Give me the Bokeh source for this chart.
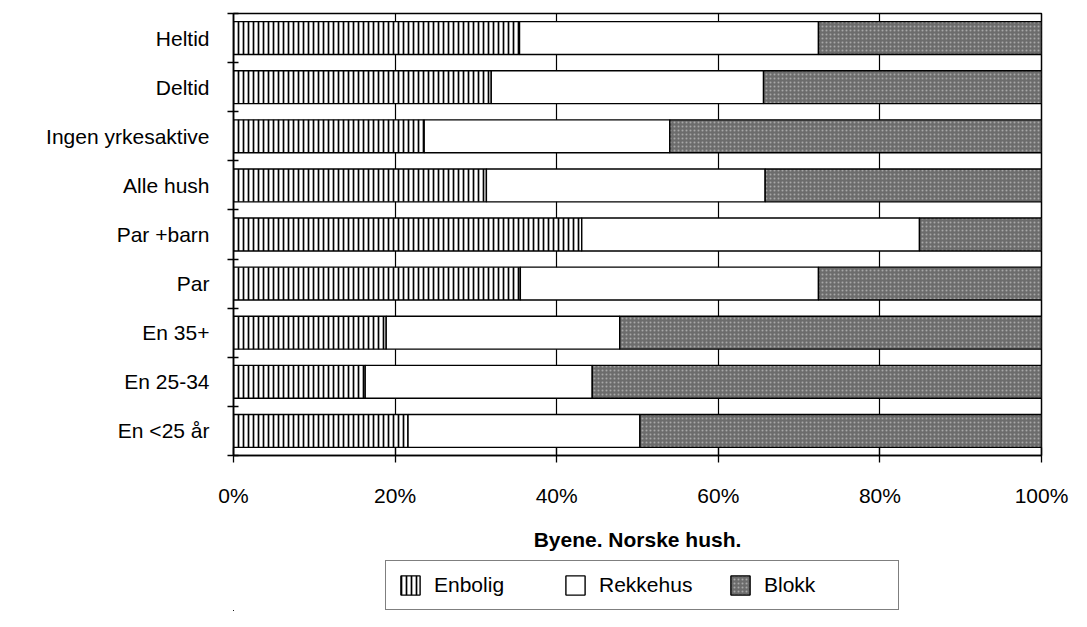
from bokeh.plotting import figure
from bokeh.models import (ColumnDataSource, Range1d, FixedTicker, Legend, LegendItem,
                          PrintfTickFormatter)
from bokeh.layouts import column
from bokeh.embed import file_html
from bokeh.resources import INLINE

# ---- data (percent of households) ----
categories = ["Heltid", "Deltid", "Ingen yrkesaktive", "Alle hush", "Par +barn",
              "Par", "En 35+", "En 25-34", "En <25 år"]
enbolig = [35.4, 31.9, 23.6, 31.3, 43.1, 35.5, 18.9, 16.3, 21.6]
rekkehus = [37.0, 33.7, 30.4, 34.5, 41.8, 36.9, 28.9, 28.1, 28.7]
blokk = [27.6, 34.4, 46.0, 34.2, 15.1, 27.6, 52.2, 55.6, 49.7]
series_names = ["Enbolig", "Rekkehus", "Blokk"]
x_ticks = [0, 20, 40, 60, 80, 100]
x_title = "Byene. Norske hush."

FONT = "Liberation Sans"
n = len(categories)
ypos = [n - i - 0.5 for i in range(n)]

e_end = list(enbolig)
r_end = [e + r for e, r in zip(enbolig, rekkehus)]
b_end = [a + b for a, b in zip(r_end, blokk)]

src = ColumnDataSource(dict(
    y=ypos, cat=categories,
    e_l=[0] * n, e_r=e_end,
    r_l=e_end, r_r=r_end,
    b_l=r_end, b_r=b_end,
))

STYLES = [
    dict(fill_color="white", line_color="black", line_width=1.4,
         hatch_pattern="vertical_line", hatch_color="black", hatch_scale=5, hatch_weight=1.7),
    dict(fill_color="white", line_color="black", line_width=1.4),
    dict(fill_color="#6c6c6c", line_color="black", line_width=1.4,
         hatch_pattern="dot", hatch_color="#a8a8a8", hatch_scale=4, hatch_weight=1),
]
COLS = [("e_l", "e_r"), ("r_l", "r_r"), ("b_l", "b_r")]

p = figure(width=1071, height=555, x_range=Range1d(0, 100), y_range=Range1d(0, n),
           output_backend="svg", toolbar_location=None,
           min_border_left=233, min_border_right=30, min_border_top=13, min_border_bottom=100)

p.background_fill_color = "white"
p.border_fill_color = "white"
p.outline_line_color = "black"
p.outline_line_width = 1.5

h = 0.67
bars = [p.hbar(y="y", left=l, right=r, height=h, source=src, **st)
        for (l, r), st in zip(COLS, STYLES)]

# ---- x axis ----
xa = p.xaxis[0]
xa.ticker = FixedTicker(ticks=x_ticks, minor_ticks=[])
xa.formatter = PrintfTickFormatter(format="%d%%")
xa.axis_line_color = "black"
xa.axis_line_width = 1.5
xa.major_tick_line_color = "black"
xa.major_tick_line_width = 1.3
xa.major_tick_in = 8
xa.major_tick_out = 7
xa.minor_tick_line_color = None
xa.major_label_standoff = 21
xa.major_label_text_font = FONT
xa.major_label_text_font_size = "21px"
xa.major_label_text_color = "black"
xa.axis_label = x_title
xa.axis_label_standoff = 18
xa.axis_label_text_font = FONT
xa.axis_label_text_font_size = "21px"
xa.axis_label_text_font_style = "bold"
xa.axis_label_text_color = "black"

# ---- y axis ----
ya = p.yaxis[0]
ya.ticker = FixedTicker(ticks=ypos, minor_ticks=list(range(n + 1)))
ya.major_label_overrides = {yp: c for yp, c in zip(ypos, categories)}
ya.axis_line_color = "black"
ya.axis_line_width = 1.5
ya.major_tick_line_color = None
ya.major_tick_in = 0
ya.major_tick_out = 0
ya.minor_tick_line_color = "black"
ya.minor_tick_line_width = 1.3
ya.minor_tick_in = 5
ya.minor_tick_out = 6
ya.major_label_standoff = 18
ya.major_label_text_font = FONT
ya.major_label_text_font_size = "21px"
ya.major_label_text_color = "black"

# ---- grid ----
p.xgrid.ticker = FixedTicker(ticks=x_ticks[1:-1])
p.xgrid.grid_line_color = "black"
p.xgrid.grid_line_width = 1.2
p.ygrid.grid_line_color = None

# ---- legend (own strip below the chart; its bars lie outside its visible ranges) ----
lf = figure(width=1071, height=56, x_range=Range1d(1000, 1001), y_range=Range1d(100, 101),
            output_backend="svg", toolbar_location=None,
            x_axis_location=None, y_axis_location=None,
            min_border_left=0, min_border_right=0, min_border_top=0, min_border_bottom=0)
lf.outline_line_color = None
lf.background_fill_color = "white"
lf.border_fill_color = "white"
lf.xgrid.grid_line_color = None
lf.ygrid.grid_line_color = None
lr = [lf.hbar(y="y", left=l, right=r, height=h, source=src, **st)
      for (l, r), st in zip(COLS, STYLES)]

legend = Legend(items=[LegendItem(label=name, renderers=[r])
                       for name, r in zip(series_names, lr)],
                orientation="horizontal", location=(152, 1),
                glyph_width=24, glyph_height=24, label_height=24, label_width=122,
                label_standoff=12, spacing=7, padding=12, margin=0,
                border_line_color="black", border_line_width=1.5,
                background_fill_color="white", background_fill_alpha=1.0,
                label_text_font=FONT, label_text_font_size="21px",
                label_text_color="black")
lf.add_layout(legend)

layout = column(p, lf, spacing=0)
open("out.html", "w").write(file_html(layout, INLINE))
